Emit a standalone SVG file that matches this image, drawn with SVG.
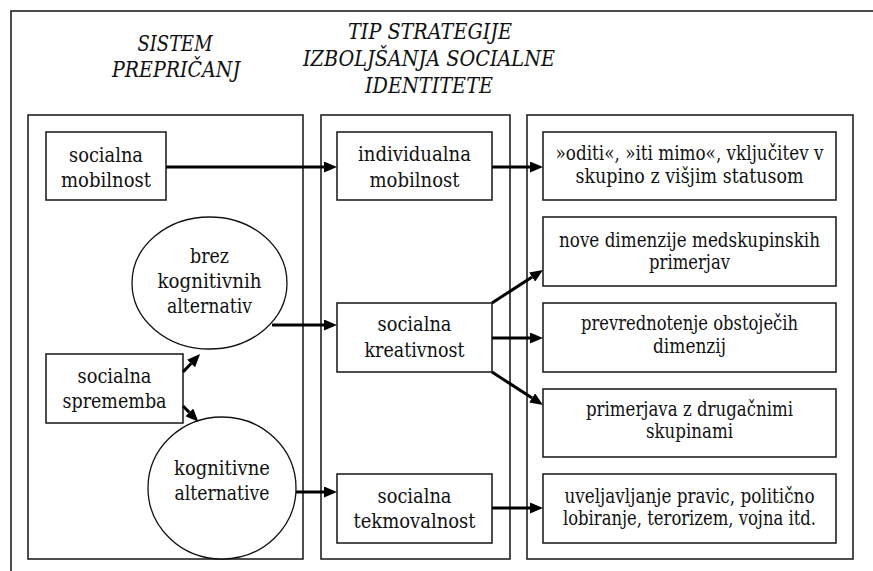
<svg xmlns="http://www.w3.org/2000/svg" width="873" height="571" viewBox="0 0 873 571">
<style>
.frame{fill:none;stroke:#222;stroke-width:1.6}
.box{fill:#fff;stroke:#222;stroke-width:1.6}
.ell{fill:#fff;stroke:#111;stroke-width:1.3}
text{font-family:'DejaVu Serif','Liberation Serif','Times New Roman',serif;fill:#111;text-anchor:middle}
.t{font-size:21px}
.tr{font-size:19.6px}
.h{font-size:21.5px;font-style:italic}
.c{stroke:#000;stroke-width:3;fill:none;marker-end:url(#ah)}
</style>
<defs>
<marker id="ah" markerUnits="userSpaceOnUse" markerWidth="13" markerHeight="11" viewBox="0 0 13 11" refX="0" refY="5.5" orient="auto">
<path d="M0,0 L13,5.5 L0,11 z" fill="#000"/>
</marker>
</defs>
<rect width="873" height="571" fill="#fff"/>
<rect class="frame" x="11" y="11" width="900" height="600"/>

<g id="headings">
<text class="h" x="175" y="51" textLength="75" lengthAdjust="spacingAndGlyphs">SISTEM</text>
<text class="h" x="176" y="77" textLength="128" lengthAdjust="spacingAndGlyphs">PREPRIČANJ</text>
<text class="h" x="430" y="39" textLength="164" lengthAdjust="spacingAndGlyphs">TIP STRATEGIJE</text>
<text class="h" x="429" y="66" textLength="252" lengthAdjust="spacingAndGlyphs">IZBOLJŠANJA SOCIALNE</text>
<text class="h" x="429" y="93" textLength="128" lengthAdjust="spacingAndGlyphs">IDENTITETE</text>
</g>

<g id="col-prepricanja"><rect class="frame" x="28" y="115" width="275" height="444"/></g>
<g id="col-strategije"><rect class="frame" x="321" y="115" width="189" height="444"/></g>
<g id="col-izidi"><rect class="frame" x="527" y="115" width="326" height="444"/></g>

<g id="socialna-mobilnost">
<rect class="box" x="46" y="132" width="120" height="68"/>
<text class="t" x="106" y="162" textLength="74" lengthAdjust="spacingAndGlyphs">socialna</text>
<text class="t" x="106" y="187" textLength="90" lengthAdjust="spacingAndGlyphs">mobilnost</text>
</g>
<g id="brez-kognitivnih">
<ellipse class="ell" cx="209.5" cy="283" rx="77.5" ry="66"/>
<text class="t" x="209.5" y="263" textLength="39" lengthAdjust="spacingAndGlyphs">brez</text>
<text class="t" x="209.5" y="288" textLength="104" lengthAdjust="spacingAndGlyphs">kognitivnih</text>
<text class="t" x="209.5" y="313" textLength="85" lengthAdjust="spacingAndGlyphs">alternativ</text>
</g>
<g id="socialna-sprememba">
<rect class="box" x="46" y="354" width="137" height="69"/>
<text class="t" x="114.5" y="383" textLength="74" lengthAdjust="spacingAndGlyphs">socialna</text>
<text class="t" x="114.5" y="408" textLength="104" lengthAdjust="spacingAndGlyphs">sprememba</text>
</g>
<g id="kognitivne-alternative">
<ellipse class="ell" cx="222" cy="488" rx="74" ry="71"/>
<text class="t" x="222" y="475" textLength="96" lengthAdjust="spacingAndGlyphs">kognitivne</text>
<text class="t" x="222" y="500" textLength="95" lengthAdjust="spacingAndGlyphs">alternative</text>
</g>

<g id="individualna-mobilnost">
<rect class="box" x="337" y="132" width="155" height="68"/>
<text class="t" x="414.5" y="161" textLength="113" lengthAdjust="spacingAndGlyphs">individualna</text>
<text class="t" x="414.5" y="187" textLength="90" lengthAdjust="spacingAndGlyphs">mobilnost</text>
</g>
<g id="socialna-kreativnost">
<rect class="box" x="337" y="303" width="155" height="69"/>
<text class="t" x="414.5" y="331" textLength="74" lengthAdjust="spacingAndGlyphs">socialna</text>
<text class="t" x="414.5" y="357" textLength="100" lengthAdjust="spacingAndGlyphs">kreativnost</text>
</g>
<g id="socialna-tekmovalnost">
<rect class="box" x="337" y="474" width="155" height="69"/>
<text class="t" x="414.5" y="503" textLength="74" lengthAdjust="spacingAndGlyphs">socialna</text>
<text class="t" x="414.5" y="528" textLength="122" lengthAdjust="spacingAndGlyphs">tekmovalnost</text>
</g>

<g id="oditi">
<rect class="box" x="543" y="132" width="293" height="68"/>
<text class="tr" x="689.5" y="160" textLength="268" lengthAdjust="spacingAndGlyphs">»oditi«, »iti mimo«, vključitev v</text>
<text class="tr" x="689.5" y="183" textLength="228" lengthAdjust="spacingAndGlyphs">skupino z višjim statusom</text>
</g>
<g id="nove-dimenzije">
<rect class="box" x="543" y="217" width="293" height="69"/>
<text class="tr" x="689.5" y="247" textLength="261" lengthAdjust="spacingAndGlyphs">nove dimenzije medskupinskih</text>
<text class="tr" x="689.5" y="269" textLength="81" lengthAdjust="spacingAndGlyphs">primerjav</text>
</g>
<g id="prevrednotenje">
<rect class="box" x="543" y="303" width="293" height="69"/>
<text class="tr" x="689.5" y="330" textLength="217" lengthAdjust="spacingAndGlyphs">prevrednotenje obstoječih</text>
<text class="tr" x="689.5" y="353" textLength="73" lengthAdjust="spacingAndGlyphs">dimenzij</text>
</g>
<g id="primerjava">
<rect class="box" x="543" y="389" width="293" height="68"/>
<text class="tr" x="689.5" y="416" textLength="207" lengthAdjust="spacingAndGlyphs">primerjava z drugačnimi</text>
<text class="tr" x="689.5" y="438" textLength="87" lengthAdjust="spacingAndGlyphs">skupinami</text>
</g>
<g id="uveljavljanje">
<rect class="box" x="543" y="474" width="293" height="69"/>
<text class="tr" x="689.5" y="503" textLength="250" lengthAdjust="spacingAndGlyphs">uveljavljanje pravic, politično</text>
<text class="tr" x="689.5" y="525" textLength="253" lengthAdjust="spacingAndGlyphs">lobiranje, terorizem, vojna itd.</text>
</g>

<g id="connectors">
<line class="c" x1="166" y1="167" x2="324" y2="167"/>
<line class="c" x1="272" y1="325" x2="324" y2="325"/>
<line class="c" x1="296" y1="492" x2="324" y2="492"/>
<line class="c" x1="492" y1="167" x2="530" y2="167"/>
<line class="c" x1="492" y1="303" x2="532.1" y2="277"/>
<line class="c" x1="492" y1="338" x2="530" y2="338"/>
<line class="c" x1="492" y1="372" x2="532.1" y2="398"/>
<line class="c" x1="492" y1="508" x2="530" y2="508"/>
<line class="c" x1="183" y1="372" x2="191.1" y2="363.5"/>
<line class="c" x1="183" y1="406" x2="189.3" y2="412.4"/>
</g>
</svg>
